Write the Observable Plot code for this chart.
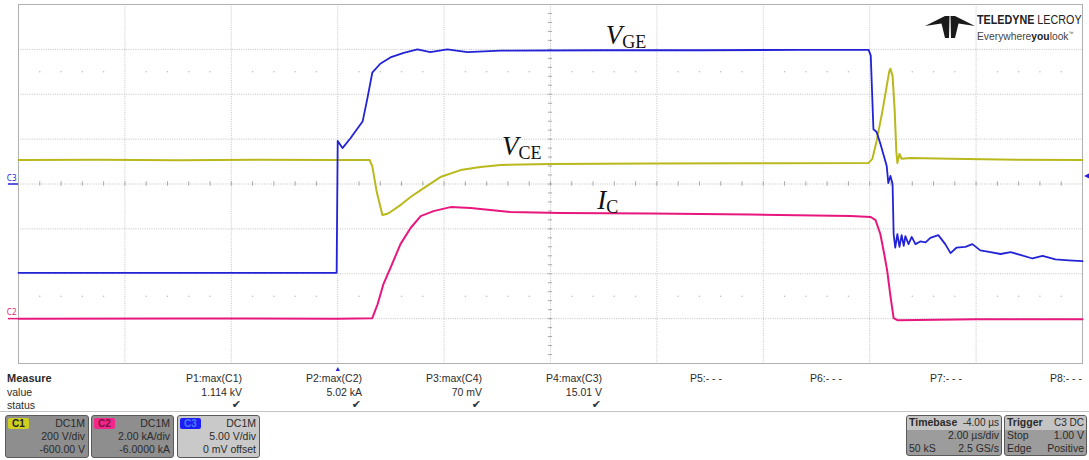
<!DOCTYPE html>
<html><head><meta charset="utf-8">
<script src="https://cdn.jsdelivr.net/npm/d3@7"></script>
<script src="https://cdn.jsdelivr.net/npm/@observablehq/plot@0.6"></script>
<style>
body{margin:0;background:#fff;}
#wrap{position:relative;width:1089px;height:460px;overflow:hidden;font-family:"Liberation Sans",Arial,sans-serif;color:#2b2b2b;font-size:10.5px;}
#chart{position:absolute;left:0;top:0;}
.abs{position:absolute;white-space:nowrap;line-height:12px;}
.box{position:absolute;border:1px solid #5a5a5a;border-radius:3px;box-sizing:border-box;overflow:hidden;}
.tag{position:absolute;left:2px;top:2px;width:21px;height:11px;border-radius:2px;font-weight:bold;font-size:10px;line-height:11px;text-align:center;}
.row{position:absolute;left:3px;right:3px;height:13px;line-height:13px;}
.r{position:absolute;right:0;}
.l{position:absolute;left:0;}
</style></head>
<body><div id="wrap"><div id="chart"></div></div>
<script>
// ---- channel settings (from the channel boxes) ----
const channelNames = ["C1", "C2", "C3"];
const channelPerDiv = [200, 2, 5];          // V/div, kA/div, V/div
const channelOffset = [-600, -6, 0];         // V, kA, V
const channelColor = ["#b9b91e", "#e8177d", "#2323d6"];

// ---- time axis: 2 µs/div, trigger at 0, timebase -4 µs ----
const timeDomain = [-6, 14];
const divDomain = [-4, 4];

// ---- traces: [time µs, value] ----
// C1: V_CE (V)
const vceData = [[-6,707],[-4.5,708],[-3,706],[-1.5,708],[0,707],[0.60,707],[0.65,680],[0.73,569],[0.84,462],[0.92,466],
 [0.99,475],[1.18,506],[1.37,542],[1.56,573],[1.93,631],[2.31,662],[2.68,676],[3.06,685],[4.0,689],[5.88,691],
 [7.76,692],[9.98,694],[10.05,712],[10.13,792],[10.24,926],[10.33,1051],[10.37,1104],[10.39,1114],[10.43,1082],
 [10.47,926],[10.50,747],[10.52,694],[10.56,734],[10.60,712],[10.77,716],[11.52,712],[12.46,709],[14,707]];
// C2: I_C (kA)
const icData = [[-6,0.0],[-3,0.01],[0,-0.01],[0.65,0.02],[0.75,0.64],[0.86,1.54],[0.99,2.25],[1.18,3.32],[1.37,4.04],
 [1.56,4.57],[1.80,4.79],[2.12,4.97],[2.50,4.93],[3.25,4.75],[4.19,4.71],[5.88,4.68],[7.76,4.64],[9.64,4.57],
 [10.02,4.53],[10.11,4.39],[10.20,3.77],[10.28,2.79],[10.33,2.12],[10.39,1.0],[10.45,0.02],[10.52,-0.07],[12,-0.03],[14,-0.03]];
// C3: V_GE (V)
const vgeData = [[-6,-9.9],[-3,-9.9],[-0.02,-9.9],[0,4.8],[0.09,4.0],[0.24,5.1],[0.47,7.0],[0.56,9.6],[0.65,12.4],
 [0.80,13.4],[0.99,14.1],[1.24,14.6],[1.50,15.0],[1.74,14.7],[2.06,15.0],[2.44,14.7],[3.06,14.85],[4.94,14.9],
 [6.82,14.9],[8.70,14.95],[9.98,14.95],[10.02,14.3],[10.07,6.1],[10.13,5.8],[10.20,4.5],[10.32,2.0],[10.35,0.1],
 [10.39,0.9],[10.43,0.0],[10.45,-5.6],[10.48,-7.1],[10.52,-5.6],[10.56,-7.0],[10.60,-5.7],[10.64,-6.9],[10.67,-5.8],
 [10.73,-6.7],[10.79,-5.9],[10.86,-6.7],[10.95,-6.4],[11.05,-6.5],[11.14,-6.0],[11.29,-5.7],[11.42,-6.7],[11.52,-7.7],
 [11.63,-7.1],[11.80,-7.0],[11.93,-6.7],[12.08,-7.4],[12.27,-7.6],[12.46,-7.8],[12.65,-7.6],[12.83,-7.9],[13.06,-8.3],
 [13.25,-8.0],[13.49,-8.4],[13.74,-8.5],[14,-8.6]];

// ---- trace labels: main letter, subscript, channel index, time, value (baseline) ----
const labelMain = ["V", "V", "I"];
const labelSub = ["GE", "CE", "C"];
const labelChannel = [2, 0, 1];
const labelTime = [5.35, 3.40, 5.05];
const labelValue = [15.6, 729, 4.88];

// ---- trigger ----
const triggerTime = 0;
const triggerLevel = 1.0;   // V on C3

// ---- measurement table ----
const measureNames = ["P1:max(C1)","P2:max(C2)","P3:max(C4)","P4:max(C3)","P5:- - -","P6:- - -","P7:- - -","P8:- - -"];
const measureValues = ["1.114 kV","5.02 kA","70 mV","15.01 V","","","",""];
const measureStatus = ["✔","✔","✔","✔","","","",""];

// ---- channel boxes ----
const boxCoupling = ["DC1M","DC1M","DC1M"];
const boxScale = ["200 V/div","2.00 kA/div","5.00 V/div"];
const boxOffset = ["-600.00 V","-6.0000 kA","0 mV offset"];

const toDiv = (ch, v) => (v + channelOffset[ch]) / channelPerDiv[ch];
const traceRows = (data, ch) => data.map(([t, v]) => ({t, y: toDiv(ch, v)}));

const labels = labelMain.map((m, i) => ({main: m, sub: labelSub[i], t: labelTime[i], y: toDiv(labelChannel[i], labelValue[i])}));

const xGrid = d3.range(timeDomain[0] + 2, timeDomain[1], 2);
const yGrid = d3.range(divDomain[0] + 1, divDomain[1], 1);
const xCenter = (timeDomain[0] + timeDomain[1]) / 2;
const xMinor = d3.range(timeDomain[0], timeDomain[1] + 0.001, 0.4).map(v => +v.toFixed(2));
const yMinor = d3.range(divDomain[0], divDomain[1] + 0.001, 0.2).map(v => +v.toFixed(2));
const dotRows = [];
for (const yy of [-2.5, 2.5]) for (const xx of xMinor) if (Math.abs(xx / 2 - Math.round(xx / 2)) > 0.01) dotRows.push({t: xx, y: yy});

const grid = {stroke: "#c2c2c2", strokeDasharray: "1,1.3", strokeWidth: 1};
const serif = "'Liberation Serif','Times New Roman',serif";

const chart = Plot.plot({
  width: 1089, height: 372,
  marginLeft: 18, marginRight: 7, marginTop: 4, marginBottom: 9,
  style: {background: "transparent", overflow: "visible"},
  x: {domain: timeDomain, axis: null},
  y: {domain: divDomain, axis: null},
  marks: [
    Plot.ruleX(xGrid, grid),
    Plot.ruleY(yGrid, grid),
    Plot.ruleX(xMinor, {y1: -0.05, y2: 0.05, stroke: "#a8a8a8"}),
    Plot.ruleY(yMinor, {x1: xCenter - 0.04, x2: xCenter + 0.04, stroke: "#a8a8a8"}),
    Plot.dot(dotRows, {x: "t", y: "y", r: 0.7, fill: "#b8b8b8", stroke: null}),
    Plot.frame({stroke: "#b0b0b0"}),
    Plot.line(traceRows(vceData, 0), {x: "t", y: "y", stroke: channelColor[0], strokeWidth: 2}),
    Plot.line(traceRows(icData, 1), {x: "t", y: "y", stroke: channelColor[1], strokeWidth: 2}),
    Plot.line(traceRows(vgeData, 2), {x: "t", y: "y", stroke: channelColor[2], strokeWidth: 1.8}),
    // trace labels
    Plot.text(labels, {x: "t", y: "y", text: "main", textAnchor: "end", lineAnchor: "bottom", fontFamily: serif, fontStyle: "italic", fontSize: 27, fill: "#111"}),
    Plot.text(labels, {x: "t", y: "y", text: "sub", textAnchor: "start", lineAnchor: "bottom", dy: 4, fontFamily: serif, fontSize: 18, fill: "#111"}),
    // ground markers for C3 and C2
    Plot.text([{n: "C3", y: toDiv(2, 0), c: channelColor[2]}, {n: "C2", y: toDiv(1, 0), c: channelColor[1]}],
      {x: timeDomain[0], y: "y", text: "n", fill: "c", textAnchor: "end", dx: -2, dy: -6, fontSize: 8}),
    Plot.ruleY([{y: toDiv(2, 0), c: channelColor[2]}, {y: toDiv(1, 0), c: channelColor[1]}],
      {y: "y", x1: timeDomain[0] - 0.19, x2: timeDomain[0], stroke: "c", strokeWidth: 1.5}),
    // trigger markers
    Plot.text([triggerTime], {x: d => d, y: divDomain[0], text: ["▲"], dy: 5, fontSize: 7, fill: channelColor[2]}),
    Plot.text([toDiv(2, triggerLevel)], {x: timeDomain[1], y: d => d, text: ["◀"], dx: 4, fontSize: 8, fill: channelColor[2]})
  ]
});
document.getElementById("chart").appendChild(chart);

// ---- HTML panel below the grid ----
const wrap = document.getElementById("wrap");
function add(html) { wrap.insertAdjacentHTML("beforeend", html); }
add(`<div class="abs" style="left:7px;top:372px;font-weight:bold;font-size:11px">Measure</div>`);
add(`<div class="abs" style="left:7px;top:386px">value</div>`);
add(`<div class="abs" style="left:7px;top:399px">status</div>`);
measureNames.forEach((n, i) => {
  const right = 1089 - (242 + i * 120);
  add(`<div class="abs" style="right:${right}px;top:372px;text-align:right">${n}</div>`);
  if (measureValues[i]) add(`<div class="abs" style="right:${right}px;top:386px;text-align:right">${measureValues[i]}</div>`);
  if (measureStatus[i]) add(`<div class="abs" style="right:${right + 1}px;top:399px;text-align:right;font-family:'DejaVu Sans';font-size:11px;color:#333">${measureStatus[i]}</div>`);
});
add(`<div class="abs" style="left:0;top:411px;width:1089px;height:1px;background:#c4c4c4"></div>`);

const boxLeft = [5, 91, 177];
const boxWidth = [84, 83, 83];
const boxFill = ["#8e8e8e", "#8e8e8e", "#c9c9c9"];
const tagFill = ["#cfcf1f", "#f5268b", "#1d1df5"];
const tagText = ["#222", "#7a1040", "#4a7bff"];
channelNames.forEach((n, i) => {
  add(`<div class="box" style="left:${boxLeft[i]}px;top:415px;width:${boxWidth[i]}px;height:43px;background:${boxFill[i]}">
   <div class="tag" style="background:${tagFill[i]};color:${tagText[i]}">${n}</div>
   <div class="row" style="top:1px"><span class="r">${boxCoupling[i]}</span></div>
   <div class="row" style="top:14px"><span class="r">${boxScale[i]}</span></div>
   <div class="row" style="top:27px"><span class="r">${boxOffset[i]}</span></div></div>`);
});

const tbRows = [["Timebase","-4.00 µs"],["","2.00 µs/div"],["50 kS","2.5 GS/s"]];
const trRows = [["Trigger","C3 DC"],["Stop","1.00 V"],["Edge","Positive"]];
function statusBox(left, width, rows) {
  add(`<div class="box" style="left:${left}px;top:415px;width:${width}px;height:41px;background:#9c9c9c">
   <div style="position:absolute;left:0;top:0;right:0;height:14px;background:#c4c4c4"></div>
   ${rows.map((r, k) => `<div class="row" style="top:${k * 13}px;left:2px;right:2px"><span class="l" style="${k === 0 ? 'font-weight:bold;font-size:10.5px' : ''}">${r[0]}</span><span class="r" style="${k === 0 ? 'font-size:10px' : ''}">${r[1]}</span></div>`).join("")}
  </div>`);
}
statusBox(906, 96, tbRows);
statusBox(1004, 83, trRows);

// ---- logo ----
add(`<svg style="position:absolute;left:924px;top:14px" width="52" height="26" viewBox="0 0 52 26">
  <path d="M1,12 L21,2 L25.5,2 L25,24 L21,24 L17.5,9.5 Z" fill="#1a1a1a"/>
  <path d="M51,12 L31,2 L26.5,2 L27,24 L31,24 L34.5,9.5 Z" fill="#1a1a1a"/>
</svg>`);
add(`<div class="abs" style="left:977px;top:14px;font-size:12.5px;line-height:13px;color:#222;transform:scaleX(0.86);transform-origin:left"><b>TELEDYNE</b> LECROY</div>`);
add(`<div class="abs" style="left:977px;top:28px;font-size:10.5px;line-height:11px;color:#444;transform:scaleX(0.98);transform-origin:left">Everywhere<b style="color:#222">you</b>look<sup style="font-size:5px">™</sup></div>`);
</script>
</body></html>
